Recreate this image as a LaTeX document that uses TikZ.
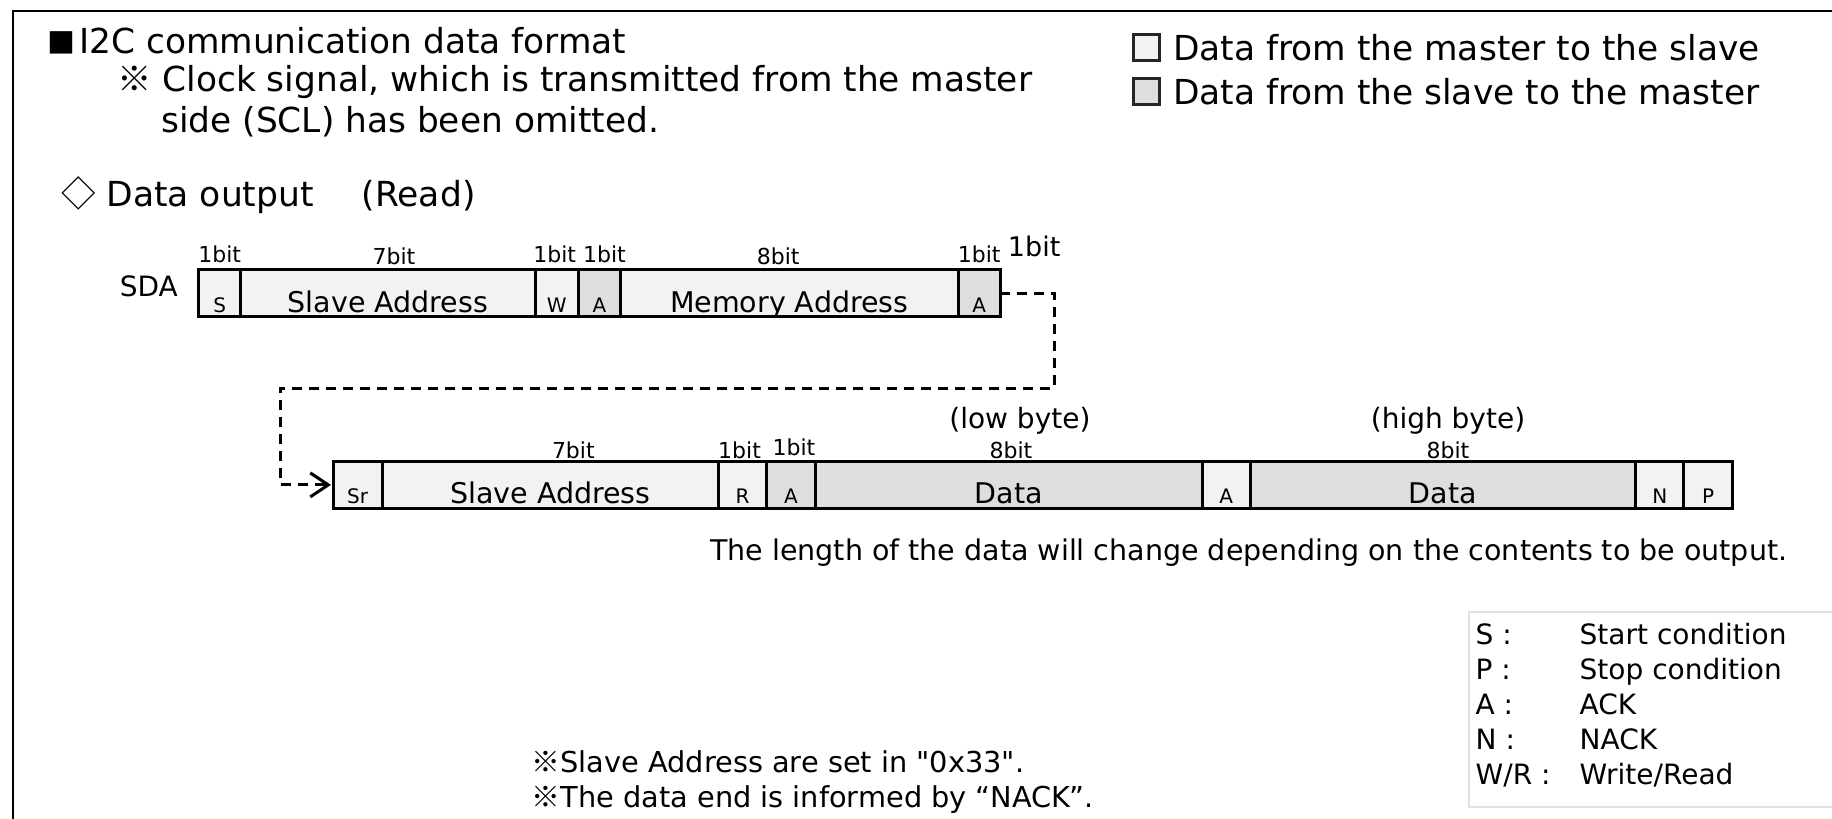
\documentclass[tikz,border=0pt]{standalone}
\usepackage{fontspec}
\setmainfont{DejaVu Sans}[Ligatures=TeXOff]
\newfontfamily\cjk{Noto Sans CJK JP}
\usepackage{tikz}
\usetikzlibrary{arrows.meta, positioning}
\definecolor{mfill}{RGB}{242,242,242}
\definecolor{sfill}{RGB}{222,222,222}
\definecolor{keyline}{RGB}{225,225,225}
\tikzset{
    mcell/.style={rectangle, draw=black, fill=mfill, line width=3pt, minimum height=46.7pt, inner sep=0pt, outer sep=0pt, text height=38pt, text depth=0pt, font=\fontsize{28.5}{28.5}\selectfont},
    scell/.style={mcell, fill=sfill},
    onebit/.style={font=\fontsize{20}{20}\selectfont},
    bitlbl/.style={anchor=base, inner sep=0pt, font=\fontsize{22}{22}\selectfont},
    txt/.style={anchor=west, inner sep=0pt, font=\fontsize{34.4}{34.4}\selectfont},
    keybox/.style={rectangle, draw=black!85, line width=2.7pt, minimum size=26pt, inner sep=0pt},
    link/.style={draw, line width=3pt, dash pattern=on 10pt off 7pt, -{Straight Barb[length=18pt, width=24pt]}}
}
\begin{document}
\begin{tikzpicture}[x=1pt, y=-1pt, node distance=0pt]
        \useasboundingbox (0,0) rectangle (1832,819);
        \draw[line width=2.2pt] (13,840) -- (13,11) -- (1850,11);

        \node[txt] (head) at (47,41) {{\cjk\fontsize{28}{28}\selectfont ■}\hspace{4pt}I2C communication data format};
        \node[txt] (clk) at (117,82) {{\cjk ※} Clock signal, which is transmitted from the master};
        \node[txt] (scl) at (161,121.5) {side (SCL) has been omitted.};
        \node[txt, font=\fontsize{34.5}{34.5}\selectfont] (read) at (61,195) {{\cjk ◇} Data output\hspace{48pt}(Read)};

        \node[keybox, fill=mfill] (m2s) at (1146.5,47.5) {};
        \node[txt, right=12pt of m2s] (m2stxt) {Data from the master to the slave};
        \node[keybox, fill=sfill] (s2m) at (1146.5,91.5) {};
        \node[txt, right=12pt of s2m] (s2mtxt) {Data from the slave to the master};

        \node[anchor=east, inner sep=0pt, font=\fontsize{28}{28}\selectfont] (sda) at (178,286) {SDA};

        % write part
        \node[mcell, onebit, minimum width=42.1pt, anchor=west] (s) at (198.6,293.25) {S};
        \node[mcell, minimum width=294.4pt, right=of s] (sa1) {Slave Address};
        \node[mcell, onebit, minimum width=43.3pt, right=of sa1] (w) {W};
        \node[scell, onebit, minimum width=42pt, right=of w] (ack1) {A};
        \node[mcell, minimum width=337.7pt, right=of ack1] (mem) {Memory Address};
        \node[scell, onebit, minimum width=42.1pt, right=of mem] (ack2) {A};

        \node[bitlbl] (b1) at ([yshift=7pt]s.north) {1bit};
        \node[bitlbl] (b2) at ([xshift=6pt, yshift=5pt]sa1.north) {7bit};
        \node[bitlbl] (b3) at ([xshift=-2pt, yshift=7pt]w.north) {1bit};
        \node[bitlbl] (b4) at ([xshift=5pt, yshift=7pt]ack1.north) {1bit};
        \node[bitlbl] (b5) at ([xshift=-11pt, yshift=5pt]mem.north) {8bit};
        \node[bitlbl] (b6) at ([yshift=7pt]ack2.north) {1bit};
        \node[bitlbl, font=\fontsize{27}{27}\selectfont] (b7) at ([xshift=55pt, yshift=13pt]ack2.north) {1bit};

        % read part
        \node[mcell, onebit, minimum width=49.1pt, anchor=west] (sr) at (333,484.9) {Sr};
        \node[mcell, minimum width=336.5pt, right=of sr] (sa2) {Slave Address};
        \node[mcell, onebit, minimum width=47.9pt, right=of sa2] (rd) {R};
        \node[scell, onebit, minimum width=49pt, right=of rd] (ack3) {A};
        \node[scell, minimum width=386.8pt, right=of ack3] (lo) {Data};
        \node[mcell, onebit, minimum width=47.9pt, right=of lo] (ack4) {A};
        \node[scell, minimum width=385.6pt, right=of ack4] (hi) {Data};
        \node[mcell, onebit, minimum width=47.9pt, right=of hi] (nack) {N};
        \node[mcell, onebit, minimum width=49pt, right=of nack] (stop) {P};

        \node[bitlbl] (b8) at ([xshift=23pt, yshift=3pt]sa2.north) {7bit};
        \node[bitlbl] (b9) at ([xshift=-3pt, yshift=3pt]rd.north) {1bit};
        \node[bitlbl] (b10) at ([xshift=3pt, yshift=6pt]ack3.north) {1bit};
        \node[bitlbl] (b11) at ([xshift=2pt, yshift=3pt]lo.north) {8bit};
        \node[bitlbl] (b12) at ([xshift=5pt, yshift=3pt]hi.north) {8bit};
        \node[bitlbl, font=\fontsize{28}{28}\selectfont] (lob) at ([xshift=11pt, yshift=33pt]lo.north) {(low byte)};
        \node[bitlbl, font=\fontsize{28}{28}\selectfont] (hib) at ([xshift=5pt, yshift=33pt]hi.north) {(high byte)};

        \node[txt, font=\fontsize{28.5}{28.5}\selectfont] (len) at (710,552.7) {The length of the data will change depending on the contents to be output.};

        % abbreviations
        \node[draw=keyline, line width=2pt, minimum width=380pt, minimum height=195pt, anchor=north west, inner sep=0pt] (key) at (1467.5,611) {};
        \node[anchor=north west, inner sep=0pt, font=\fontsize{28}{35}\selectfont] (keytxt) at ([xshift=8pt, yshift=-9pt]key.north west) {\begin{tabular}{@{}p{104pt}@{}l@{}}
            S : & Start condition\\
            P : & Stop condition\\
            A : & ACK\\
            N : & NACK\\
            W/R : & Write/Read
        \end{tabular}};

        \node[anchor=west, inner sep=0pt, align=left, font=\fontsize{28.8}{35}\selectfont] (notes) at (531.6,782.5) {{\cjk ※}Slave Address are set in "0x33".\\{\cjk ※}The data end is informed by “NACK”.};

        % Draws
        \draw[link] (ack2.east) -- ++(54,0) -- ++(0,95) -| ([xshift=-52.6pt]sr.west) -- ([xshift=-2pt]sr.west);

    \end{tikzpicture}
\end{document}
